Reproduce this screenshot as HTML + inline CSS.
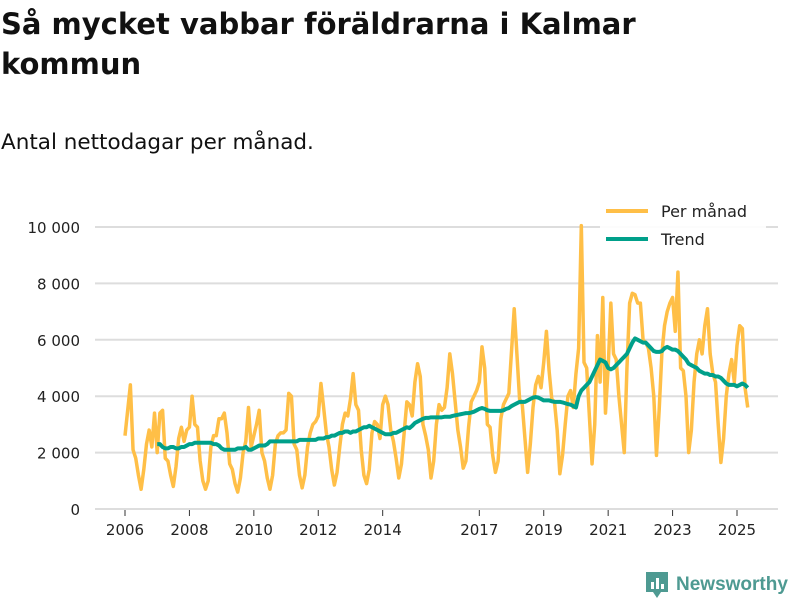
<!DOCTYPE html>
<html><head><meta charset="utf-8"><style>
body{margin:0;width:800px;height:600px;background:#fff;font-family:"DejaVu Sans","Liberation Sans",sans-serif;overflow:hidden;position:relative;color:#111}
h1{position:absolute;left:1px;top:4px;margin:0;font-size:29px;line-height:40px;font-weight:bold;width:680px}
.sub{position:absolute;left:1px;top:130px;font-size:21.5px}
svg{position:absolute;left:0;top:0;font-family:"DejaVu Sans","Liberation Sans",sans-serif}
</style></head><body>
<h1>Så mycket vabbar föräldrarna i Kalmar kommun</h1>
<div class="sub">Antal nettodagar per månad.</div>
<svg id="c" width="800" height="600"></svg>
<script>
const startYear = 2006;
const monthly = [
2600,3500,4400,2100,1800,1200,700,1400,2300,2800,2200,3400,
2000,3400,3500,1800,1700,1200,800,1500,2500,2900,2400,2800,
2900,4000,3000,2900,1700,1000,700,1000,2200,2600,2600,3200,
3200,3400,2700,1600,1400,900,600,1100,2000,2400,3600,2200,
2600,3000,3500,2000,1700,1100,700,1200,2300,2600,2700,2700,
2800,4100,4000,2300,2100,1200,750,1200,2200,2700,3000,3100,
3300,4450,3600,2700,2200,1400,850,1300,2200,3000,3400,3300,
3900,4800,3700,3500,2100,1200,900,1400,2700,3100,3000,2500,
3700,4000,3700,2800,2400,1800,1100,1600,2700,3800,3700,3300,
4500,5150,4700,3000,2600,2100,1100,1700,3000,3700,3500,3600,
4300,5500,4800,3800,2800,2200,1450,1700,2900,3800,4000,4200,
4500,5750,5000,3000,2900,1900,1300,1700,3200,3700,3900,4100,
5600,7100,5500,3900,3700,2500,1300,2300,3600,4400,4700,4300,
5200,6300,4900,3900,3800,2800,1250,1900,3000,4000,4200,3600,
4800,5700,10050,5200,5000,3300,1600,3000,6150,4500,7500,3400,
5000,7300,5500,5300,4000,3000,2000,5000,7300,7650,7600,7300,
7300,6000,5900,5700,5000,4000,1900,3500,5500,6500,7000,7300,
7500,6300,8400,5000,4900,4000,2000,2800,4500,5500,6000,5500,
6500,7100,5500,4800,4500,3000,1650,2500,4000,4800,5300,4500,
5800,6500,6400,4300,3600];
const trendStart = 12;
const trend = [
2300,2300,2200,2150,2150,2200,2200,2150,2150,2200,2200,2250,
2300,2300,2350,2350,2350,2350,2350,2350,2350,2300,2300,2250,
2150,2100,2100,2100,2100,2100,2150,2150,2150,2200,2100,2100,
2150,2200,2250,2250,2250,2300,2400,2400,2400,2400,2400,2400,
2400,2400,2400,2400,2400,2450,2450,2450,2450,2450,2450,2450,
2500,2500,2500,2550,2550,2600,2600,2650,2700,2700,2750,2750,
2700,2750,2750,2800,2850,2900,2900,2950,2900,2850,2800,2750,
2700,2650,2650,2650,2700,2700,2750,2800,2850,2900,2870,2950,
3050,3100,3150,3200,3230,3230,3250,3250,3250,3250,3250,3270,
3270,3270,3300,3320,3340,3360,3380,3400,3400,3420,3450,3500,
3550,3580,3550,3500,3480,3480,3480,3480,3480,3500,3550,3580,
3650,3700,3750,3800,3800,3800,3850,3900,3950,3970,3950,3900,
3850,3850,3850,3820,3800,3800,3800,3780,3750,3720,3700,3650,
3600,4000,4200,4300,4400,4500,4700,4900,5100,5300,5250,5200,
5000,4950,5000,5100,5200,5300,5400,5500,5700,5900,6050,6000,
5950,5900,5900,5800,5700,5600,5570,5570,5600,5700,5750,5700,
5650,5650,5600,5500,5400,5300,5150,5100,5050,5000,4900,4850,
4800,4800,4750,4750,4700,4700,4650,4550,4450,4400,4400,4400,
4350,4400,4450,4400,4300];
const yTicks = [0,2000,4000,6000,8000,10000];
const yTickLabels = ["0","2 000","4 000","6 000","8 000","10 000"];
const xTicks = [2006,2008,2010,2012,2014,2017,2019,2021,2023,2025];

const svg=document.getElementById('c');const NS='http://www.w3.org/2000/svg';
const X=t=>125+(t-2006)*(612/19);
const Y=v=>509-v*0.0282;
const mx=i=>X(startYear+i/12);
function el(tag,attrs,parent){const e=document.createElementNS(NS,tag);for(const k in attrs)e.setAttribute(k,attrs[k]);(parent||svg).appendChild(e);return e;}
yTicks.forEach((v,i)=>{
  const g=el('line',{x1:95,x2:778,y1:Y(v),y2:Y(v),stroke:'#ddd','stroke-width':2});
  
  
  const t=el('text',{x:80,y:Y(v)+6,'text-anchor':'end','font-size':15,fill:'#222'});
  t.textContent=yTickLabels[i];
  
  
});
xTicks.forEach(y=>{
  const l=el('line',{x1:X(y),x2:X(y),y1:510,y2:516,stroke:'#333','stroke-width':1});
  
  
  const t=el('text',{x:X(y),y:535,'text-anchor':'middle','font-size':15,fill:'#222'});
  t.textContent=y;
  
  
});
const p1=el('polyline',{points:monthly.map((v,i)=>mx(i)+','+Y(v)).join(' '),fill:'none',stroke:'#ffbf47','stroke-width':3.5,'stroke-linejoin':'round'});


const p2=el('polyline',{points:trend.map((v,i)=>mx(i+trendStart)+','+Y(v)).join(' '),fill:'none',stroke:'#00a08a','stroke-width':4,'stroke-linejoin':'round'});


const lg=el('g',{});


el('rect',{x:600,y:198,width:166,height:56,fill:'#fff','fill-opacity':0.9},lg);
el('line',{x1:606,x2:648,y1:211,y2:211,stroke:'#ffbf47','stroke-width':4},lg);
el('line',{x1:606,x2:648,y1:239,y2:239,stroke:'#00a08a','stroke-width':4},lg);
const a=el('text',{x:661,y:217,'font-size':16,fill:'#222'},lg);a.textContent='Per månad';


const b=el('text',{x:661,y:245,'font-size':16,fill:'#222'},lg);b.textContent='Trend';


const logo=el('g',{});


el('path',{d:'M646 572 h22 v20 h-7 l-4 6 l-4 -6 h-7 z',fill:'#4e9a92'},logo);
el('rect',{x:651,y:582,width:3,height:7,fill:'#fff'},logo);
el('rect',{x:656,y:578,width:3,height:11,fill:'#fff'},logo);
el('rect',{x:661,y:584,width:3,height:5,fill:'#fff'},logo);
const lt=el('text',{x:676,y:590,'font-size':19,'font-weight':'bold',fill:'#4e9a92','font-family':'Liberation Sans, sans-serif'},logo);lt.textContent='Newsworthy';
</script>
</body></html>
